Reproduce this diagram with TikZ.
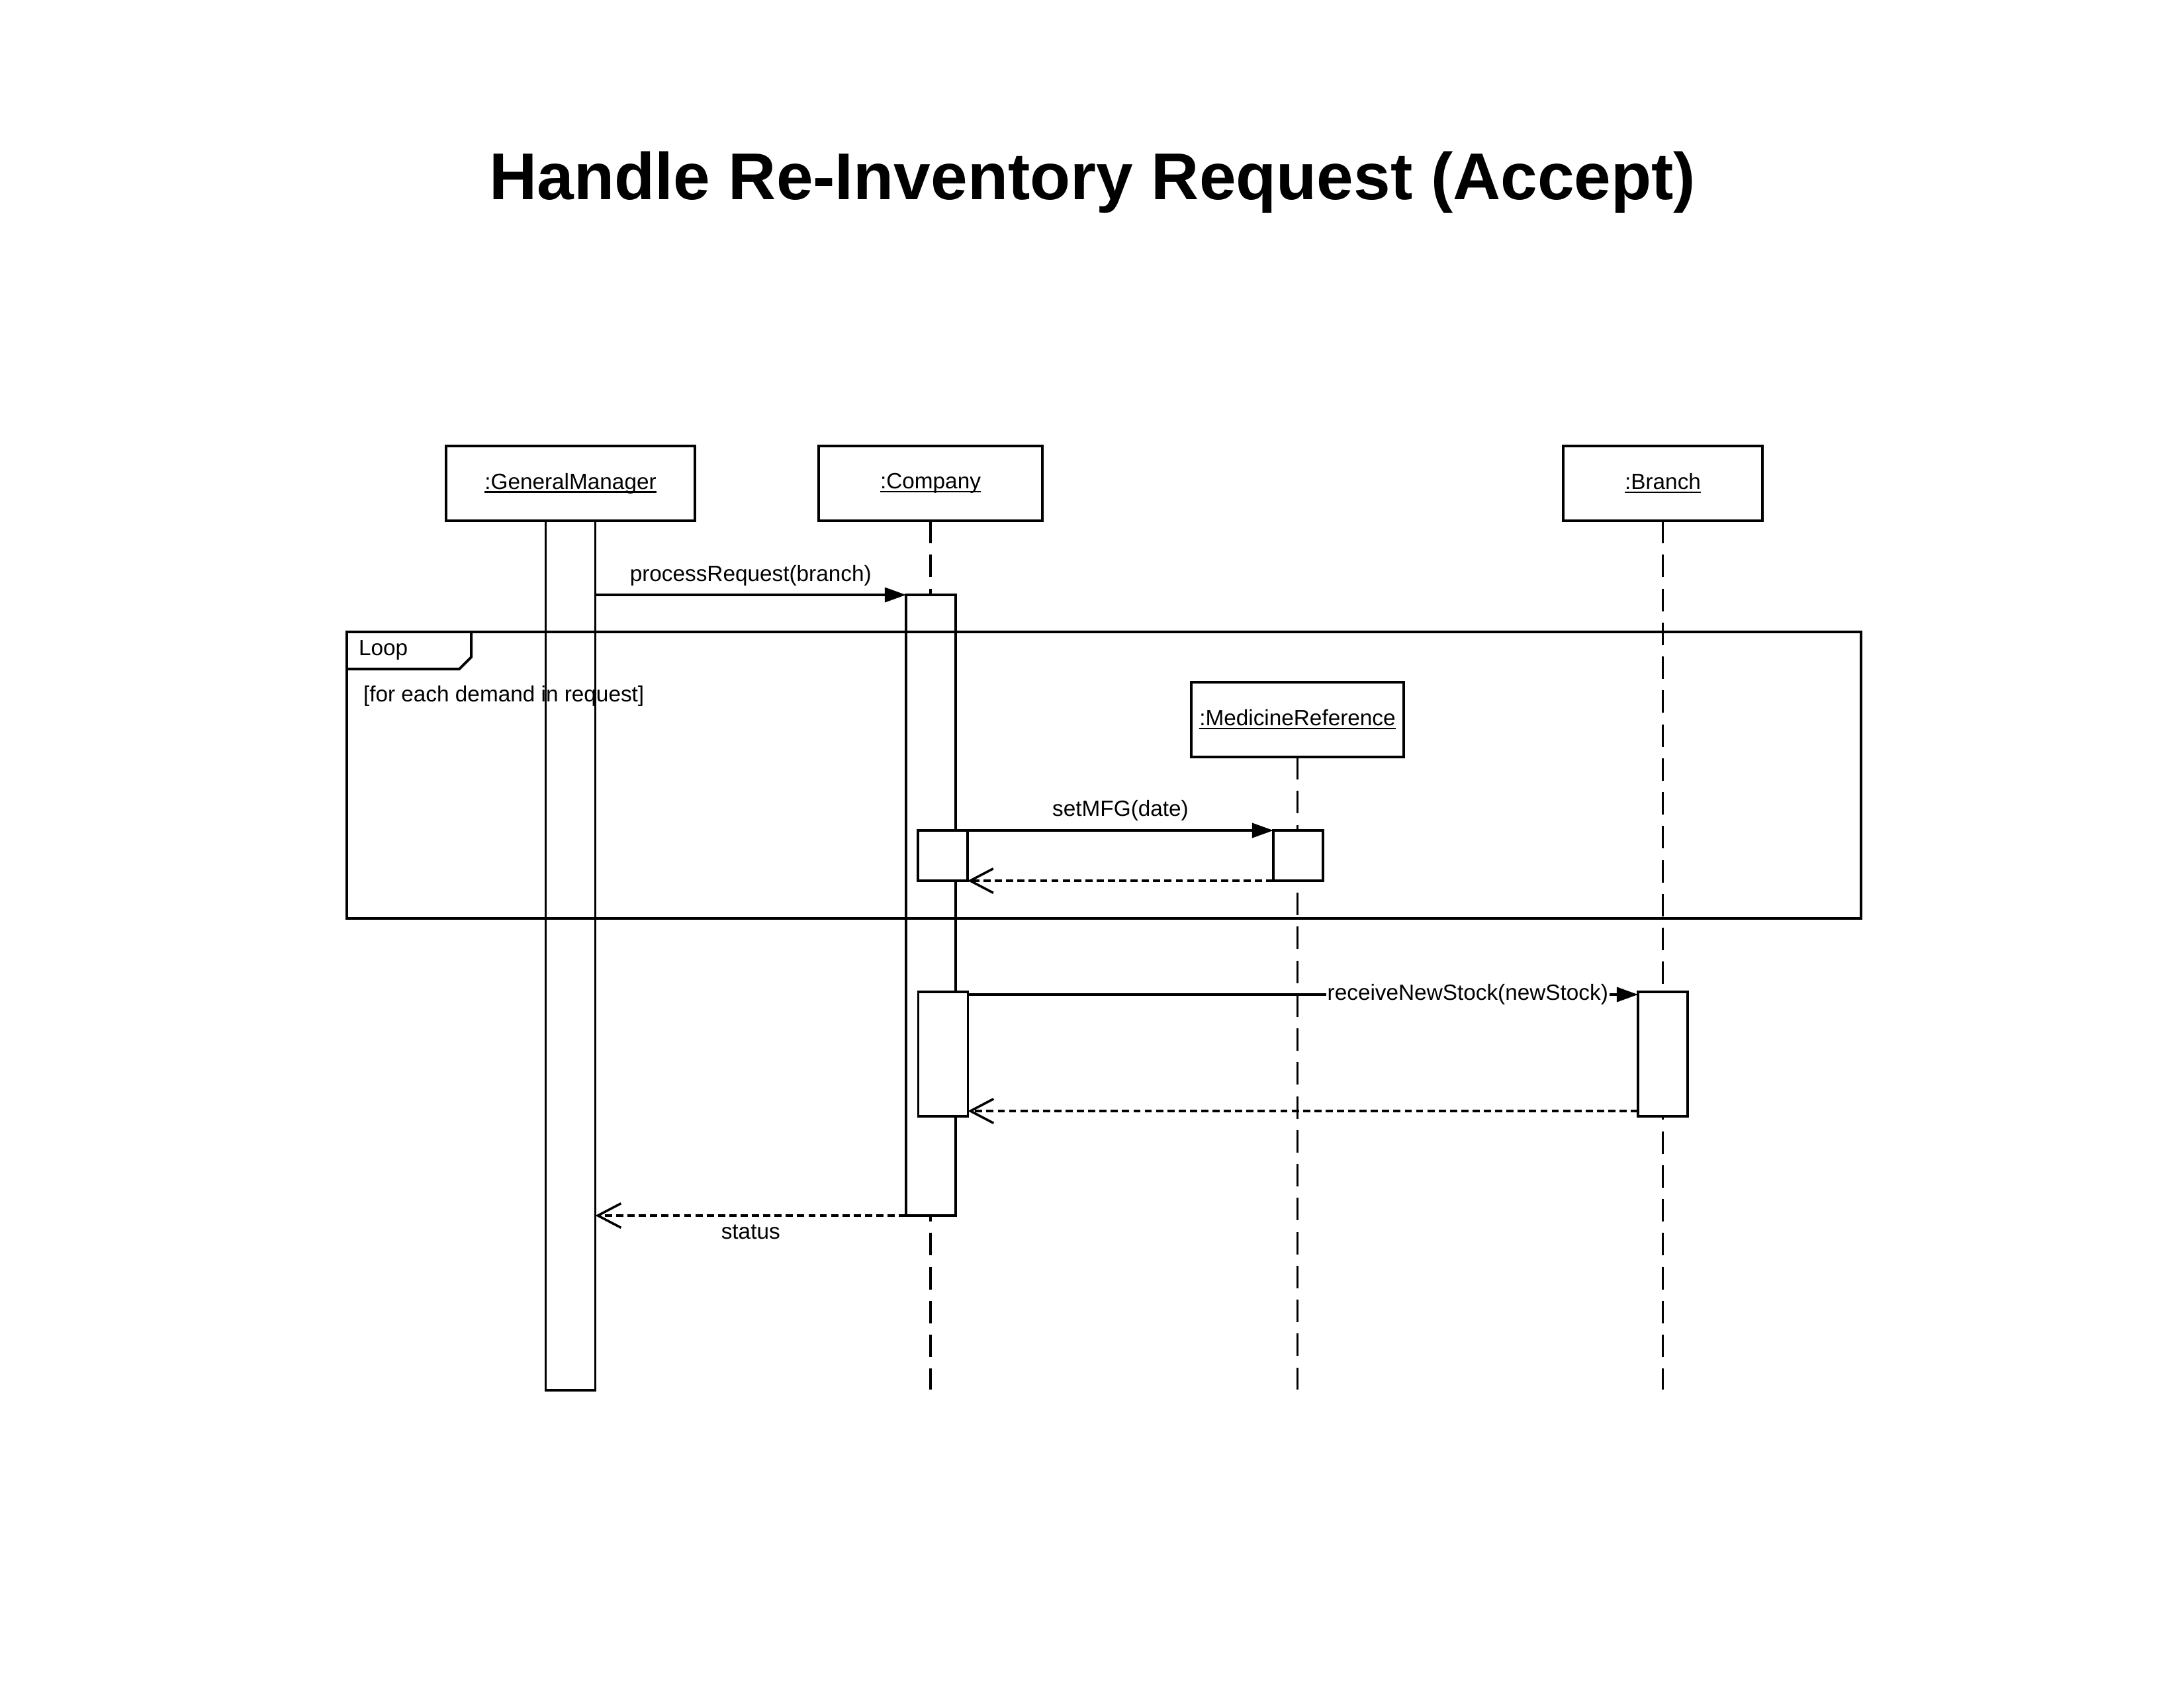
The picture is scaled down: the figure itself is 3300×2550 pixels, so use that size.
\documentclass[tikz,border=0pt]{standalone}
\usepackage{fontspec}
\setmainfont{Liberation Sans}
\usetikzlibrary{arrows.meta,calc}
\newcommand\objname[1]{\setbox0\hbox{#1}\rlap{\rule[-1.3pt]{\wd0}{0.55pt}}\box0}
\begin{document}
\begin{tikzpicture}[x=0.24pt,y=-0.24pt,
  lw/.style={line width=0.95pt},
  obj/.style={draw, line width=0.95pt, fill=white, inner sep=0pt, outer sep=0pt, minimum height=27.12pt, font=\fontsize{8}{9.6}\selectfont},
  act/.style={draw, line width=0.95pt, fill=white, inner sep=0pt, outer sep=0pt, minimum width=18pt},
  lifeline/.style={line width=0.75pt, dash pattern=on 8.2pt off 4.1pt},
  msg/.style={line width=0.85pt, -{Triangle[length=7.7pt,width=5.3pt]}},
  ret/.style={line width=0.85pt, dash pattern=on 2.6pt off 1.5pt, -{Straight Barb[length=8.4pt,width=8.8pt,line width=0.85pt]}},
  lbl/.style={font=\fontsize{8}{9.6}\selectfont, inner sep=1pt},
]
\useasboundingbox (0,0) rectangle (3300,2550);

\node[font=\fontsize{24}{28}\selectfont\bfseries] (title) at (1651,276) {Handle Re-Inventory Request (Accept)};

\node[obj, minimum width=90.24pt] (gm) at (862,730.5) {\objname{:GeneralManager}};
\node[obj, minimum width=81.12pt] (co) at (1406,730.5) {\objname{:Company}};
\node[obj, minimum width=72.24pt] (br) at (2512.5,730.5) {\objname{:Branch}};
\node[obj, minimum width=77.04pt] (mr) at (1960.5,1087.5) {\objname{:MedicineReference}};

\coordinate (lend) at (0,2100);
\draw[lifeline] (co.south) -- (co.south |- lend);
\draw[lifeline] (mr.south) -- (mr.south |- lend);
\draw[lifeline] (br.south) -- (br.south |- lend);

\node[act, minimum height=315.36pt] (gmA) at (862,1444) {};
\node[act, minimum height=225.12pt] (coA) at (1406.5,1368) {};
\node[act, minimum height=18.24pt] (coA1) at (1424.5,1293) {};
\node[act, minimum height=45.12pt] (coA2) at (1425,1593) {};
\node[act, minimum height=18.24pt] (mrA) at (1961.5,1293) {};
\node[act, minimum height=45.12pt] (brA) at (2512.5,1593) {};

\node[draw, lw, inner sep=0pt, outer sep=0pt, minimum width=549.12pt, minimum height=103.92pt] (loop) at (1668,1171.5) {};
\draw[lw] (loop.north west) ++(188,0) -- ++(0,38) -- ++(-18,18) -- ($(loop.north west)+(0,56)$);
\node[lbl, anchor=west] (looplbl) at (537,982) {Loop};
\node[lbl, anchor=west] (guard) at (544,1052) {[for each demand in request]};

\draw[msg] (gmA.east |- coA.north) -- (coA.north west) node[lbl, midway, yshift=7pt] {processRequest(branch)};
\draw[msg] (coA1.north east) -- (mrA.north west) node[lbl, midway, yshift=7.2pt] {setMFG(date)};
\draw[ret] (mrA.south west) -- (coA1.south east);
\draw[msg] ($(coA2.north east)+(0,4)$) -- ($(brA.north west)+(0,4)$) node[lbl, pos=0.746, fill=white, inner sep=0.5pt] {receiveNewStock(newStock)};
\draw[ret] ($(brA.south west)+(0,-8)$) -- ($(coA2.south east)+(0,-8)$);
\draw[ret] (coA.south west) -- (gmA.east |- coA.south west) node[lbl, midway, yshift=-6pt] {status};
\end{tikzpicture}
\end{document}
